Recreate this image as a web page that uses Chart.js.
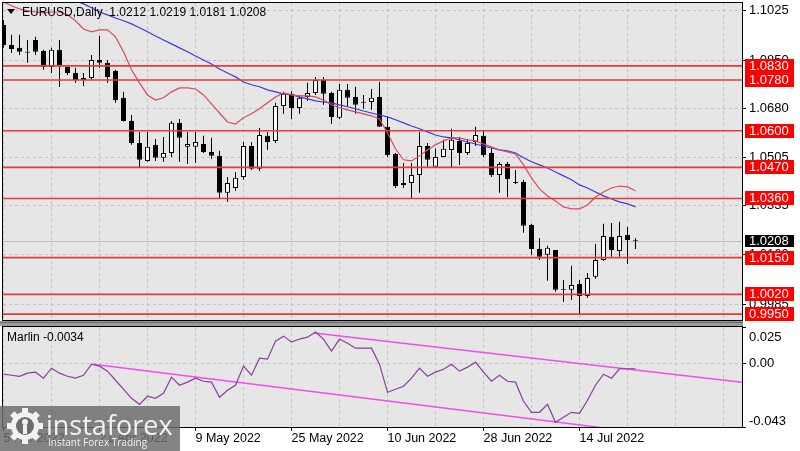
<!DOCTYPE html>
<html><head><meta charset="utf-8">
<script src="https://cdn.jsdelivr.net/npm/chart.js@4.4.1/dist/chart.umd.min.js"></script>
<style>
html,body{margin:0;padding:0;background:#fff;overflow:hidden}
#wrap{position:relative;width:800px;height:451px}
canvas{position:absolute;left:0}
#main{top:0}
#ind{top:321px}
</style></head>
<body><div id="wrap"><canvas id="main" width="800" height="321"></canvas><canvas id="ind" width="800" height="130"></canvas></div>
<script>
// ---------------- DATA ----------------
const symbolTitle = 'EURUSD,Daily';
const dates = ['2022-04-05','2022-04-06','2022-04-07','2022-04-08','2022-04-11','2022-04-12','2022-04-13','2022-04-14','2022-04-15','2022-04-18',
'2022-04-19','2022-04-20','2022-04-21','2022-04-22','2022-04-25','2022-04-26','2022-04-27','2022-04-28','2022-04-29','2022-05-02',
'2022-05-03','2022-05-04','2022-05-05','2022-05-06','2022-05-09','2022-05-10','2022-05-11','2022-05-12','2022-05-13','2022-05-16',
'2022-05-17','2022-05-18','2022-05-19','2022-05-20','2022-05-23','2022-05-24','2022-05-25','2022-05-26','2022-05-27','2022-05-30',
'2022-05-31','2022-06-01','2022-06-02','2022-06-03','2022-06-06','2022-06-07','2022-06-08','2022-06-09','2022-06-10','2022-06-13',
'2022-06-14','2022-06-15','2022-06-16','2022-06-17','2022-06-20','2022-06-21','2022-06-22','2022-06-23','2022-06-24','2022-06-27',
'2022-06-28','2022-06-29','2022-06-30','2022-07-01','2022-07-04','2022-07-05','2022-07-06','2022-07-07','2022-07-08','2022-07-11',
'2022-07-12','2022-07-13','2022-07-14','2022-07-15','2022-07-18','2022-07-19','2022-07-20','2022-07-21','2022-07-22','2022-07-25'];
const opens = [1.0975,1.0904,1.0894,1.0880,1.0922,1.0883,1.0826,1.0887,1.0826,1.0805,
1.0780,1.0787,1.0851,1.0841,1.0812,1.0717,1.0635,1.0557,1.0493,1.0550,
1.0504,1.0521,1.0628,1.0543,1.0543,1.0553,1.0525,1.0511,1.0380,1.0397,
1.0436,1.0546,1.0465,1.0582,1.0564,1.0688,1.0731,1.0681,1.0720,1.0734,
1.0780,1.0734,1.0646,1.0745,1.0720,1.0702,1.0702,1.0720,1.0614,1.0518,
1.0408,1.0415,1.0443,1.0546,1.0472,1.0507,1.0532,1.0564,1.0521,1.0560,
1.0582,1.0521,1.0443,1.0482,1.0418,1.0418,1.0266,1.0181,1.0160,1.0177,
1.0039,1.0036,1.0057,1.0014,1.0082,1.0142,1.0224,1.0174,1.0231,1.0212];
const highs = [1.0993,1.0940,1.0940,1.0922,1.0933,1.0887,1.0894,1.0922,1.0833,1.0823,
1.0805,1.0869,1.0936,1.0851,1.0816,1.0738,1.0656,1.0596,1.0596,1.0571,
1.0578,1.0635,1.0642,1.0596,1.0596,1.0582,1.0575,1.0529,1.0436,1.0454,
1.0560,1.0560,1.0610,1.0596,1.0699,1.0738,1.0741,1.0727,1.0770,1.0791,
1.0791,1.0738,1.0766,1.0766,1.0756,1.0727,1.0748,1.0773,1.0649,1.0521,
1.0486,1.0486,1.0596,1.0557,1.0536,1.0568,1.0607,1.0578,1.0571,1.0614,
1.0603,1.0539,1.0489,1.0489,1.0461,1.0426,1.0270,1.0220,1.0192,1.0177,
1.0071,1.0121,1.0071,1.0096,1.0199,1.0270,1.0273,1.0277,1.0259,1.0219];
const lows = [1.0894,1.0876,1.0869,1.0841,1.0869,1.0816,1.0805,1.0755,1.0798,1.0770,
1.0759,1.0780,1.0823,1.0770,1.0699,1.0633,1.0550,1.0468,1.0490,1.0493,
1.0490,1.0507,1.0490,1.0482,1.0486,1.0521,1.0500,1.0362,1.0348,1.0387,
1.0426,1.0461,1.0458,1.0532,1.0557,1.0660,1.0642,1.0660,1.0706,1.0727,
1.0692,1.0624,1.0642,1.0685,1.0660,1.0678,1.0674,1.0614,1.0507,1.0397,
1.0397,1.0358,1.0380,1.0472,1.0472,1.0507,1.0468,1.0479,1.0514,1.0546,
1.0507,1.0436,1.0380,1.0365,1.0411,1.0238,1.0160,1.0142,1.0068,1.0029,
0.9993,1.0000,0.9950,1.0007,1.0075,1.0139,1.0153,1.0153,1.0128,1.0181];
const closes = [1.0904,1.0890,1.0880,1.0877,1.0880,1.0826,1.0887,1.0830,1.0805,1.0780,
1.0787,1.0851,1.0841,1.0791,1.0709,1.0635,1.0557,1.0497,1.0543,1.0504,
1.0521,1.0628,1.0575,1.0553,1.0560,1.0525,1.0511,1.0380,1.0415,1.0433,
1.0546,1.0465,1.0585,1.0560,1.0688,1.0731,1.0681,1.0717,1.0734,1.0780,
1.0731,1.0649,1.0745,1.0717,1.0692,1.0699,1.0717,1.0614,1.0514,1.0404,
1.0415,1.0443,1.0546,1.0497,1.0507,1.0536,1.0568,1.0521,1.0557,1.0585,
1.0514,1.0443,1.0482,1.0429,1.0415,1.0263,1.0181,1.0153,1.0185,1.0036,
1.0036,1.0053,1.0014,1.0078,1.0142,1.0227,1.0177,1.0227,1.0213,1.0208];
const maFast = [1.1057,1.1043,1.1032,1.1025,1.1021,1.1018,1.1021,1.1021,1.1011,1.0990,
1.0961,1.0951,1.0958,1.0958,1.0933,1.0880,1.0816,1.0770,1.0727,1.0709,
1.0717,1.0738,1.0752,1.0752,1.0748,1.0727,1.0695,1.0663,1.0631,1.0624,
1.0646,1.0660,1.0678,1.0699,1.0720,1.0734,1.0727,1.0724,1.0724,1.0720,
1.0709,1.0692,1.0681,1.0674,1.0667,1.0660,1.0653,1.0642,1.0592,1.0536,
1.0497,1.0493,1.0511,1.0532,1.0550,1.0564,1.0575,1.0575,1.0568,1.0564,
1.0553,1.0543,1.0532,1.0525,1.0518,1.0479,1.0433,1.0394,1.0369,1.0351,
1.0330,1.0323,1.0323,1.0337,1.0365,1.0383,1.0397,1.0404,1.0401,1.0387];
const maSlow = [null,null,null,null,null,null,null,null,null,1.1060,
1.1050,1.1036,1.1021,1.1011,1.1000,1.0990,1.0979,1.0965,1.0951,1.0936,
1.0922,1.0908,1.0894,1.0880,1.0865,1.0851,1.0837,1.0819,1.0805,1.0791,
1.0773,1.0763,1.0756,1.0745,1.0738,1.0731,1.0727,1.0720,1.0713,1.0706,
1.0702,1.0699,1.0692,1.0685,1.0678,1.0670,1.0663,1.0656,1.0649,1.0639,
1.0628,1.0617,1.0607,1.0596,1.0585,1.0578,1.0575,1.0568,1.0560,1.0553,
1.0546,1.0539,1.0532,1.0529,1.0521,1.0504,1.0490,1.0479,1.0468,1.0454,
1.0440,1.0426,1.0408,1.0397,1.0383,1.0369,1.0358,1.0348,1.0341,1.0330];
const marlin = [-0.0071,-0.0078,-0.0085,-0.0064,-0.0057,-0.0098,-0.0030,-0.0064,-0.0085,-0.0098,
-0.0078,-0.0003,-0.0016,-0.0050,-0.0112,-0.0173,-0.0235,-0.0276,-0.0221,-0.0235,
-0.0201,-0.0091,-0.0146,-0.0125,-0.0098,-0.0119,-0.0125,-0.0228,-0.0180,-0.0146,
-0.0016,-0.0078,0.0038,0.0031,0.0154,0.0188,0.0147,0.0168,0.0181,0.0216,
0.0168,0.0086,0.0168,0.0140,0.0106,0.0106,0.0106,-0.0003,-0.0194,-0.0173,
-0.0153,-0.0098,-0.0030,-0.0085,-0.0057,-0.0037,-0.0003,-0.0050,-0.0023,0.0011,
-0.0057,-0.0119,-0.0078,-0.0119,-0.0125,-0.0255,-0.0330,-0.0330,-0.0276,-0.0398,
-0.0364,-0.0330,-0.0337,-0.0248,-0.0146,-0.0071,-0.0098,-0.0034,-0.0034,-0.0034];
const levels = [1.0830,1.0780,1.0600,1.0470,1.0360,1.0150,1.0020,0.9950];
const priceTicks = [1.1025,1.0850,1.0680,1.0505,1.0335,1.0160,0.9985];
const marlinTicks = [0.025,0.00,-0.043];
const marlinTickLabels = ['0.025','0.00','-0.043'];
const dateTickIdx = [0,12,24,36,48,60,72];
const dateTickLabels = ['5 Apr 2022','21 Apr 2022','9 May 2022','25 May 2022','10 Jun 2022','28 Jun 2022','14 Jul 2022'];
const trendUpper = [{x:38.8,y:0.0209},{x:92.4,y:-0.0127}];
const trendLower = [{x:11.2,y:-0.0004},{x:75.0,y:-0.0436}];

// ---------------- SETUP ----------------
const FONT = '"Liberation Sans", Arial, sans-serif';
const XMIN = -0.0625, XMAX = 92.3125;
const PRICE_MIN = 0.9929, PRICE_MAX = 1.1053;
const BG = '#e6e6e6', GRID = '#c2c2c2';
const gridIdx = []; for (let i = 0; i <= 90; i += 6) gridIdx.push(i);
const last = dates.length - 1;
Chart.defaults.font.family = FONT;
const noPad = s => { s.paddingTop = 0; s.paddingBottom = 0; s.paddingLeft = 0; s.paddingRight = 0; };

const mainDecor = {
  id: 'mainDecor',
  beforeDraw(c) {
    const {ctx, chartArea: a} = c;
    ctx.save();
    ctx.fillStyle = '#fff'; ctx.fillRect(0, 0, c.width, c.height);
    ctx.fillStyle = BG; ctx.fillRect(a.left, a.top, a.right - a.left, a.bottom - a.top);
    ctx.restore();
  },
  beforeDatasetsDraw(c) {
    const {ctx, chartArea: a, scales: {y}} = c;
    ctx.save();
    const py = Math.round(y.getPixelForValue(closes[last])) + 0.5;
    ctx.strokeStyle = '#bdbdbd'; ctx.lineWidth = 1;
    ctx.beginPath(); ctx.moveTo(a.left, py); ctx.lineTo(a.right, py); ctx.stroke();
    ctx.restore();
  },
  afterDatasetsDraw(c) {
    const {ctx, chartArea: a, scales: {y}} = c;
    ctx.save();
    ctx.beginPath(); ctx.rect(a.left, a.top, a.right - a.left, a.bottom - a.top); ctx.clip();
    ctx.strokeStyle = '#e83a3a'; ctx.lineWidth = 1.6;
    levels.forEach(v => {
      const py = y.getPixelForValue(v);
      ctx.beginPath(); ctx.moveTo(a.left, py); ctx.lineTo(a.right, py); ctx.stroke();
    });
    ctx.restore();
  },
  afterDraw(c) {
    const {ctx, chartArea: a, scales: {y}} = c;
    ctx.save();
    ctx.strokeStyle = '#000'; ctx.lineWidth = 1;
    ctx.strokeRect(a.left - 0.5, a.top - 0.5, a.right - a.left + 1, a.bottom - a.top + 1);
    ctx.font = '13px ' + FONT; ctx.textBaseline = 'middle'; ctx.textAlign = 'left';
    levels.forEach(v => {
      const py = Math.round(y.getPixelForValue(v));
      ctx.fillStyle = '#ff0000'; ctx.fillRect(745, py - 7, 49, 14);
      ctx.fillStyle = '#fff'; ctx.fillText(v.toFixed(4), 749, py + 0.5);
    });
    const pc = Math.round(y.getPixelForValue(closes[last]));
    ctx.fillStyle = '#000'; ctx.fillRect(745, pc - 6, 49, 12);
    ctx.fillStyle = '#fff'; ctx.fillText(closes[last].toFixed(4), 749, pc + 0.5);
    // title
    ctx.fillStyle = '#000';
    ctx.beginPath(); ctx.moveTo(7, 9); ctx.lineTo(15, 9); ctx.lineTo(11, 14); ctx.closePath(); ctx.fill();
    ctx.font = '12px ' + FONT;
    const t = symbolTitle + '  ' + [opens[last], highs[last], lows[last], closes[last]].map(v => v.toFixed(4)).join(' ');
    ctx.fillText(t, 22, 12.5);
    ctx.restore();
  }
};

new Chart(document.getElementById('main'), {
  type: 'bar',
  data: {
    datasets: [
      { type: 'bar', label: 'wick', data: dates.map((d, i) => ({x: i, y: [lows[i], highs[i]]})),
        backgroundColor: '#000', borderWidth: 0, barThickness: 1, grouped: false, inflateAmount: 0, order: 3 },
      { type: 'bar', label: 'body', data: dates.map((d, i) => ({x: i, y: [opens[i], closes[i]]})),
        backgroundColor: dates.map((d, i) => closes[i] >= opens[i] ? '#ffffff' : '#000000'),
        borderColor: '#000', borderWidth: 1, borderSkipped: false, barThickness: 5, minBarLength: 1,
        grouped: false, inflateAmount: 0, order: 2 },
      { type: 'line', label: 'MA slow', data: dates.map((d, i) => ({x: i, y: maSlow[i]})),
        borderColor: '#3b3bdc', borderWidth: 1.2, pointRadius: 0, tension: 0, spanGaps: false, order: 1 },
      { type: 'line', label: 'MA fast', data: dates.map((d, i) => ({x: i, y: maFast[i]})),
        borderColor: '#dc4a5c', borderWidth: 1.2, pointRadius: 0, tension: 0, order: 0 }
    ]
  },
  options: {
    responsive: false, animation: false, events: [],
    layout: { padding: { left: 3, top: 3, right: 0, bottom: 1 } },
    plugins: { legend: { display: false }, tooltip: { enabled: false } },
    scales: {
      x: { type: 'linear', min: XMIN, max: XMAX, offset: false, display: true,
        afterBuildTicks: s => { s.ticks = gridIdx.map(v => ({value: v})); },
        afterFit: s => { s.height = 0; noPad(s); },
        ticks: { display: false },
        grid: { color: GRID, drawTicks: false, offset: false },
        border: { display: false, dash: [3, 3] } },
      y: { position: 'right', min: PRICE_MIN, max: PRICE_MAX,
        afterBuildTicks: s => { s.ticks = priceTicks.map(v => ({value: v})); },
        afterFit: s => { s.width = 58; noPad(s); },
        ticks: { color: '#000', font: { size: 13, family: FONT }, padding: 3, callback: v => Number(v).toFixed(4) },
        grid: { color: GRID, tickColor: '#000', tickLength: 4 },
        border: { display: false, dash: [3, 3] } }
    }
  },
  plugins: [mainDecor]
});

// ---------------- INDICATOR ----------------
const indDecor = {
  id: 'indDecor',
  beforeDraw(c) {
    const {ctx, chartArea: a} = c;
    ctx.save();
    ctx.fillStyle = '#fff'; ctx.fillRect(0, 0, c.width, c.height);
    ctx.fillStyle = '#9a9a9a'; ctx.fillRect(0, 0, 743, a.top - 1);
    ctx.fillStyle = '#6a6a6a'; ctx.fillRect(0, 1, 743, 1);
    ctx.fillStyle = BG; ctx.fillRect(a.left, a.top, a.right - a.left, a.bottom - a.top);
    ctx.restore();
  },
  afterDraw(c) {
    const {ctx, chartArea: a, scales: {y}} = c;
    ctx.save();
    ctx.strokeStyle = '#000'; ctx.lineWidth = 1;
    ctx.strokeRect(a.left - 0.5, a.top - 0.5, a.right - a.left + 1, a.bottom - a.top + 1);
    ctx.fillStyle = '#000'; ctx.font = '13px ' + FONT; ctx.textBaseline = 'middle'; ctx.textAlign = 'left';
    marlinTicks.forEach((v, k) => {
      let py = y.getPixelForValue(v);
      py = Math.min(Math.max(py, a.top + 10), a.bottom - 6);
      ctx.fillText(marlinTickLabels[k], 749, py);
    });
    ctx.font = '12px ' + FONT;
    ctx.fillText('Marlin ' + marlin[last].toFixed(4), 7, 17);
    // watermark
    const oy = 321;
    ctx.fillStyle = 'rgba(108,108,108,0.84)';
    ctx.fillRect(0, 406 - oy, 180, 45);
    const cx = 25, cy = 426 - oy, R = 14;
    ctx.fillStyle = '#f2f2f2';
    for (let k = 0; k < 8; k++) {
      ctx.save(); ctx.translate(cx, cy); ctx.rotate(k * Math.PI / 4);
      ctx.fillRect(-3, -R - 4, 6, 6); ctx.restore();
    }
    ctx.beginPath(); ctx.arc(cx, cy, R, 0, 2 * Math.PI); ctx.fill();
    ctx.fillStyle = '#6c6c6c';
    ctx.beginPath(); ctx.arc(cx, cy, R - 5, 0, 2 * Math.PI); ctx.fill();
    ctx.fillStyle = '#f2f2f2';
    ctx.beginPath(); ctx.arc(cx, cy - 4, 3, 0, 2 * Math.PI); ctx.fill();
    ctx.fillRect(cx - 2, cy - 1, 4, 9);
    ctx.textBaseline = 'alphabetic';
    ctx.font = '27px "Open Sans", ' + FONT;
    ctx.fillText('instaforex', 46, 435 - oy);
    ctx.font = '10px "Open Sans", ' + FONT;
    ctx.fillText('Instant Forex Trading', 48, 446 - oy);
    ctx.restore();
  }
};

new Chart(document.getElementById('ind'), {
  type: 'line',
  data: {
    datasets: [
      { label: 'upper', data: trendUpper, borderColor: '#ee4ef0', borderWidth: 1.5, pointRadius: 0, order: 2 },
      { label: 'lower', data: trendLower, borderColor: '#ee4ef0', borderWidth: 1.5, pointRadius: 0, order: 2 },
      { label: 'Marlin', data: dates.map((d, i) => ({x: i, y: marlin[i]})), borderColor: '#8a3f9c',
        borderWidth: 1.2, pointRadius: 0, tension: 0, order: 1 }
    ]
  },
  options: {
    responsive: false, animation: false, events: [],
    layout: { padding: { left: 3, top: 6, right: 0, bottom: 0 } },
    plugins: { legend: { display: false }, tooltip: { enabled: false } },
    scales: {
      x: { type: 'linear', min: XMIN, max: XMAX, offset: false,
        afterBuildTicks: s => { s.ticks = gridIdx.map(v => ({value: v})); },
        afterFit: s => { s.height = 24; noPad(s); },
        ticks: { autoSkip: false, maxRotation: 0, align: 'start', color: '#000', padding: 0,
          font: { size: 12.5, family: FONT },
          callback: v => { const k = dateTickIdx.indexOf(v); return k >= 0 ? dateTickLabels[k] : ''; } },
        grid: { color: GRID, tickLength: 4, offset: false,
          tickColor: ctx => (ctx.tick && dateTickIdx.includes(ctx.tick.value)) ? '#000' : 'rgba(0,0,0,0)' },
        border: { display: false, dash: [3, 3] } },
      y: { position: 'right', min: -0.043, max: 0.025,
        afterBuildTicks: s => { s.ticks = marlinTicks.map(v => ({value: v})); },
        afterFit: s => { s.width = 58; noPad(s); },
        ticks: { display: false },
        grid: { color: ctx => (ctx.tick && ctx.tick.value === 0) ? GRID : 'rgba(0,0,0,0)', tickColor: '#000', tickLength: 4 },
        border: { display: false, dash: [3, 3] } }
    }
  },
  plugins: [indDecor]
});
</script></body></html>
